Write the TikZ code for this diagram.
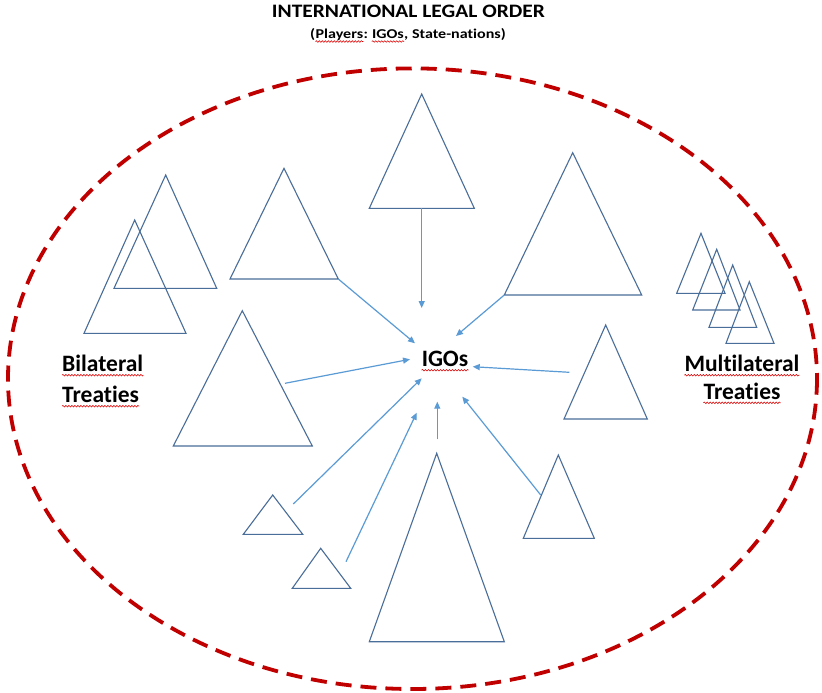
\documentclass[tikz,border=0pt]{standalone}
\usepackage{fontspec}
\setmainfont{Carlito}[Ligatures=NoCommon]
\usetikzlibrary{arrows.meta,decorations.pathmorphing}
\definecolor{triblue}{HTML}{4A6E9A}
\definecolor{arrblue}{HTML}{5B9BD5}
\definecolor{ellred}{HTML}{C00000}
\newcommand\mytri[4]{%
  \coordinate (#1-t) at (#2);
  \coordinate (#1-l) at (#3);
  \coordinate (#1-r) at (#4);
  \draw[tristyle] (#1-t) -- (#1-l) -- (#1-r) -- cycle;}
\newcommand\spellwave[2]{%
  \draw[wavy] ([yshift=-#2]#1.base west) -- ([yshift=-#2]#1.base east);}
\begin{document}
\begin{tikzpicture}[x=1pt,y=-1pt,
  tristyle/.style={draw=triblue,line width=1.1pt,line join=miter},
  conn/.style={draw=arrblue,line width=1.2pt,-{Triangle[length=7pt,width=6pt]}},
  lbl/.style={font=\fontsize{23.5}{28}\selectfont\bfseries,text=black,inner sep=0pt},
  titlestyle/.style={font=\fontsize{19}{22}\selectfont\bfseries,text=black,inner sep=0pt,anchor=base},
  substyle/.style={font=\fontsize{13.5}{16}\selectfont\bfseries,text=black,inner sep=0pt,anchor=base west},
  wavy/.style={draw=red!85!black,line width=0.55pt,decorate,decoration={snake,amplitude=0.8pt,segment length=3pt}},
]
\useasboundingbox (0,0) rectangle (822,693);
\fill[white] (0,0) rectangle (822,693);

% title
\node[titlestyle] (title) at (408.4,17.3) {\scalebox{1.13}[1]{INTERNATIONAL LEGAL ORDER}};
\node[substyle] (sub1) at (310,39) {\scalebox{1.19}[1]{(}};
\node[substyle] (sub2) at (sub1.base east) {\scalebox{1.19}[1]{Players}};
\node[substyle] (sub3) at (sub2.base east) {\scalebox{1.19}[1]{:\ }};
\node[substyle] (sub4) at (sub3.base east) {\scalebox{1.19}[1]{IGOs}};
\node[substyle] (sub5) at (sub4.base east) {\scalebox{1.19}[1]{,\ State-nations)}};
\spellwave{sub2}{2.5pt}
\spellwave{sub4}{2.5pt}

% boundary
\draw[ellred,line width=3.8pt,dash pattern=on 16pt off 9pt] (412.5,378.7) ellipse [x radius=404.5, y radius=310.3];

% triangles
\mytri{A}{165.7,175}{114,288.3}{216.7,288.3}
\mytri{B}{134.7,220}{84,333.3}{186,333.3}
\mytri{C}{284,168.3}{230,279}{338.3,279}
\mytri{D}{242.3,310.7}{173.3,446}{312.3,446}
\mytri{E}{421.7,94}{369.3,208.3}{474.3,208.3}
\mytri{F}{572.7,152.7}{504.3,295}{641.7,295}
\mytri{G}{605.7,325}{564,419}{647.3,419}
\mytri{H}{272.7,495}{243.3,534.3}{302.7,534.3}
\mytri{I}{320.7,548.3}{292.3,588.3}{350.7,588.3}
\mytri{J}{436.7,453.3}{369.3,641.7}{504.3,641.7}
\mytri{K}{558.3,455}{523.3,538.3}{594.3,538.3}
\mytri{M1}{701,233.3}{676.7,293.3}{725,293.3}
\mytri{M2}{716.7,249.3}{692.7,310}{740,310}
\mytri{M3}{732.7,265}{709,327.3}{756.7,327.3}
\mytri{M4}{749.3,281.7}{726,343.3}{774,343.3}

% labels
\node[lbl,anchor=base] (igos) at (445,366.7) {IGOs};
\node[lbl,anchor=base west] (bil1) at (62,371.7) {Bilateral};
\node[lbl,anchor=base west] (bil2) at (62,402.7) {Treaties};
\node[lbl,anchor=base] (mul1) at (742,371.7) {Multilateral};
\node[lbl,anchor=base] (mul2) at (742,399.3) {Treaties};
\spellwave{igos}{3.5pt}
\spellwave{bil1}{3.5pt}
\spellwave{bil2}{3.5pt}
\spellwave{mul1}{3.5pt}
\spellwave{mul2}{3.5pt}

% connector end points
\coordinate (sE) at (421.7,208.3);
\coordinate (sD) at (285,383.3);
\coordinate (sG) at (569.3,372.3);
\coordinate (sH) at (293.3,504);
\coordinate (sI) at (346,561.7);
\coordinate (sJ) at (437.3,439.3);
\coordinate (sK) at (540.7,495);
\coordinate (tE) at (421.7,308);
\coordinate (tC) at (415,343.3);
\coordinate (tF) at (456,336);
\coordinate (tD) at (410,359.3);
\coordinate (tG) at (472.7,366.7);
\coordinate (tH) at (421.7,378.3);
\coordinate (tI) at (416.7,412.7);
\coordinate (tJ) at (437.3,401.7);
\coordinate (tK) at (462.3,396.7);

% connectors
\draw[conn] (sE) -- (tE);
\draw[conn] (C-r) -- (tC);
\draw[conn] (F-l) -- (tF);
\draw[conn] (sD) -- (tD);
\draw[conn] (sG) -- (tG);
\draw[conn] (sH) -- (tH);
\draw[conn] (sI) -- (tI);
\draw[conn] (sJ) -- (tJ);
\draw[conn] (sK) -- (tK);
\end{tikzpicture}
\end{document}
